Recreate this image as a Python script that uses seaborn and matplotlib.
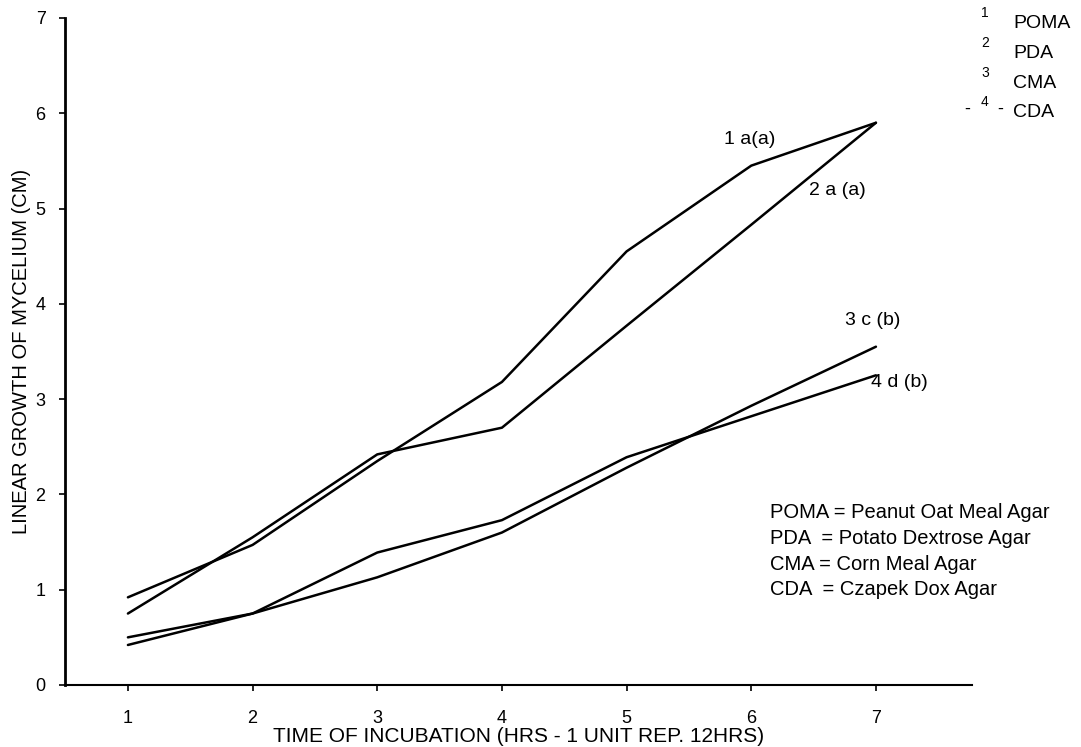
import matplotlib
matplotlib.use('Agg')
import matplotlib.pyplot as plt
import numpy as np
import pandas as pd
import seaborn as sns

# incubation time units (1 unit = 12 hrs)
time_units = [1, 2, 3, 4, 5, 6, 7]
media = ['POMA', 'PDA', 'CMA', 'CDA']
poma = [0.92, 1.47, 2.35, 3.18, 4.55, 5.45, 5.90]
pda = [0.75, 1.55, 2.42, 2.70, 3.77, 4.83, 5.90]
cma = [0.50, 0.75, 1.13, 1.60, 2.28, 2.93, 3.55]
cda = [0.42, 0.75, 1.39, 1.73, 2.39, 2.82, 3.25]
line_tags = ['1 a(a)', '2 a (a)', '3 c (b)', '4 d (b)']
full_names = ['POMA = Peanut Oat Meal Agar', 'PDA  = Potato Dextrose Agar',
              'CMA = Corn Meal Agar', 'CDA  = Czapek Dox Agar']

df = pd.DataFrame({
    'time': time_units * 4,
    'growth': poma + pda + cma + cda,
    'medium': np.repeat(media, len(time_units)),
})

sns.set_style('ticks')
plt.rcParams['font.family'] = ['Liberation Sans', 'DejaVu Sans']
plt.rcParams['text.color'] = 'black'
plt.rcParams['axes.labelcolor'] = 'black'

fig = plt.figure(figsize=(10.81, 7.47), dpi=100)
ax = fig.add_axes([0.0601, 0.083, 0.839, 0.893])

sns.lineplot(data=df, x='time', y='growth', hue='medium', palette=['black'] * 4,
             linewidth=1.8, legend=False, ax=ax)

ax.set_xlim(0.495, 7.77)
ax.set_ylim(0, 7)
ax.set_xticks(time_units)
ax.set_yticks(range(0, 8))
ax.tick_params(axis='both', labelsize=13, direction='out', length=4, width=1.2,
               colors='black', labelcolor='black')
ax.tick_params(axis='x', pad=14)
ax.tick_params(axis='y', pad=10)
ax.set_xlabel('TIME OF INCUBATION (HRS - 1 UNIT REP. 12HRS)', fontsize=15, labelpad=0)
ax.set_ylabel('LINEAR GROWTH OF MYCELIUM (CM)', fontsize=14.5, labelpad=3)
sns.despine(ax=ax)
ax.spines['left'].set_linewidth(2)
ax.spines['bottom'].set_linewidth(1.5)
ax.spines['left'].set_color('black')
ax.spines['bottom'].set_color('black')

# series tags next to the lines
tag_pos = [(5.99, 5.72), (6.69, 5.19), (6.97, 3.83), (7.19, 3.17)]
for tag, (tx, ty) in zip(line_tags, tag_pos):
    ax.text(tx, ty, tag, fontsize=14, ha='center', va='center')

# key in the top right corner
key_y = [0.968, 0.928, 0.888, 0.850]
for i, name in enumerate(media):
    fig.text(0.911, key_y[i] + 0.014, str(i + 1), fontsize=10, ha='center', va='center')
    fig.text(0.937, key_y[i], name, fontsize=14, ha='left', va='center')
fig.text(0.895, key_y[3] + 0.003, '-', fontsize=13, ha='center', va='center')
fig.text(0.925, key_y[3] + 0.003, '-', fontsize=13, ha='center', va='center')

# abbreviations
for i, name in enumerate(full_names):
    fig.text(0.712, 1 - (513 + 25.5 * i) / 747, name, fontsize=14.5, ha='left', va='center')

fig.savefig('out.png', dpi=100, facecolor='white')
